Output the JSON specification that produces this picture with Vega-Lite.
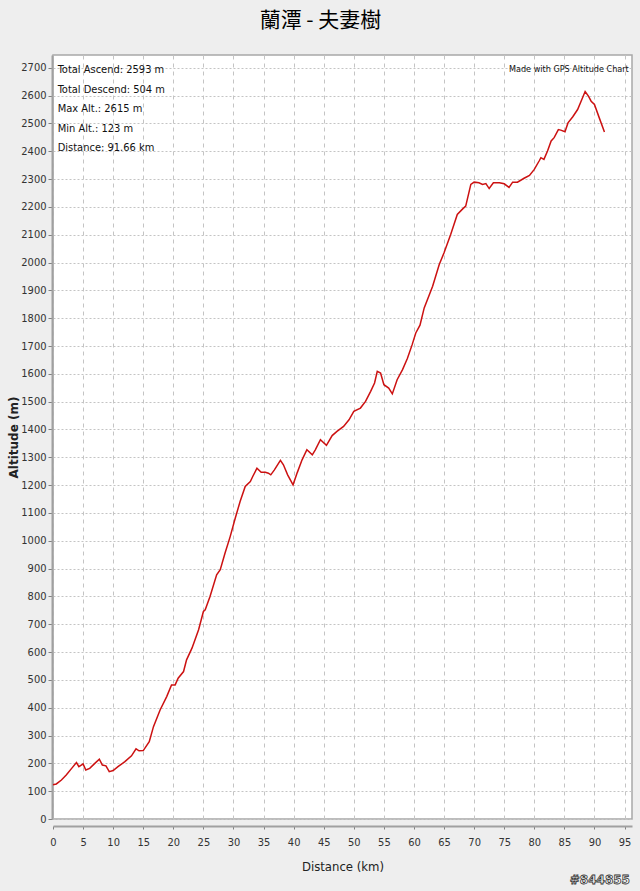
{
  "$schema": "https://vega.github.io/schema/vega-lite/v6.json",
  "width": 579,
  "height": 764,
  "autosize": {"type": "none"},
  "padding": {"left": 53, "top": 55, "right": 8, "bottom": 72},
  "background": "#eeeeee",
  "title": {
    "text": "蘭潭 - 夫妻樹",
    "font": "Noto Sans CJK TC",
    "fontSize": 21,
    "fontWeight": "normal",
    "color": "#000000",
    "anchor": "middle",
    "offset": 24,
    "dx": -22
  },
  "config": {
    "view": {"fill": "#ffffff", "stroke": "#a8a8a8", "strokeWidth": 1.5},
    "axis": {
      "labelFont": "DejaVu Sans Condensed, Liberation Sans, sans-serif",
      "labelFontSize": 11,
      "labelColor": "#333333",
      "labelOverlap": false,
      "labelFlush": false,
      "titleColor": "#222222",
      "domainColor": "#a0a0a0",
      "domainWidth": 2,
      "tickColor": "#808080",
      "gridColor": "#c4c4c4",
      "gridWidth": 1
    }
  },
  "layer": [
    {
      "data": {
        "values": [
          {"km": 0, "alt": 123}, {"km": 0.55, "alt": 126}, {"km": 1.4, "alt": 140}, {"km": 2.2, "alt": 158},
          {"km": 3.1, "alt": 182}, {"km": 3.9, "alt": 203}, {"km": 4.3, "alt": 188}, {"km": 4.7, "alt": 194},
          {"km": 5.0, "alt": 198}, {"km": 5.45, "alt": 176}, {"km": 6.1, "alt": 182}, {"km": 6.95, "alt": 200},
          {"km": 7.7, "alt": 215}, {"km": 8.2, "alt": 194}, {"km": 8.8, "alt": 191}, {"km": 9.35, "alt": 170},
          {"km": 10.0, "alt": 174}, {"km": 10.8, "alt": 188}, {"km": 11.95, "alt": 206}, {"km": 13.05, "alt": 227},
          {"km": 13.8, "alt": 252}, {"km": 14.3, "alt": 245}, {"km": 15.0, "alt": 246}, {"km": 16.0, "alt": 278},
          {"km": 16.7, "alt": 332}, {"km": 17.8, "alt": 392}, {"km": 18.9, "alt": 440}, {"km": 19.7, "alt": 482},
          {"km": 20.3, "alt": 482}, {"km": 20.8, "alt": 506}, {"km": 21.7, "alt": 530}, {"km": 22.2, "alt": 572},
          {"km": 23.1, "alt": 614}, {"km": 24.2, "alt": 680}, {"km": 25.0, "alt": 746}, {"km": 25.3, "alt": 752},
          {"km": 26.1, "alt": 800}, {"km": 27.2, "alt": 878}, {"km": 27.8, "alt": 896}, {"km": 28.6, "alt": 956},
          {"km": 29.45, "alt": 1015}, {"km": 30.3, "alt": 1082}, {"km": 31.1, "alt": 1141}, {"km": 31.95, "alt": 1195},
          {"km": 32.8, "alt": 1213}, {"km": 33.2, "alt": 1231}, {"km": 33.9, "alt": 1261}, {"km": 34.6, "alt": 1246},
          {"km": 35.3, "alt": 1246}, {"km": 35.8, "alt": 1243}, {"km": 36.2, "alt": 1237}, {"km": 36.8, "alt": 1255},
          {"km": 37.8, "alt": 1289}, {"km": 38.3, "alt": 1273}, {"km": 39.0, "alt": 1237}, {"km": 39.9, "alt": 1201},
          {"km": 40.6, "alt": 1245}, {"km": 41.4, "alt": 1291}, {"km": 42.2, "alt": 1327}, {"km": 43.1, "alt": 1309},
          {"km": 43.6, "alt": 1327}, {"km": 44.45, "alt": 1363}, {"km": 45.45, "alt": 1343}, {"km": 46.4, "alt": 1378},
          {"km": 47.2, "alt": 1393}, {"km": 48.3, "alt": 1411}, {"km": 49.2, "alt": 1435}, {"km": 50.0, "alt": 1465},
          {"km": 51.1, "alt": 1477}, {"km": 51.95, "alt": 1501}, {"km": 52.8, "alt": 1537}, {"km": 53.45, "alt": 1567},
          {"km": 53.9, "alt": 1609}, {"km": 54.45, "alt": 1603}, {"km": 55.0, "alt": 1561}, {"km": 55.8, "alt": 1549},
          {"km": 56.4, "alt": 1528}, {"km": 57.2, "alt": 1579}, {"km": 58.1, "alt": 1615}, {"km": 58.9, "alt": 1655},
          {"km": 59.7, "alt": 1705}, {"km": 60.3, "alt": 1747}, {"km": 61.0, "alt": 1775}, {"km": 61.7, "alt": 1837},
          {"km": 63.1, "alt": 1915}, {"km": 64.2, "alt": 1993}, {"km": 65.0, "alt": 2035}, {"km": 66.1, "alt": 2101},
          {"km": 67.2, "alt": 2173}, {"km": 68.1, "alt": 2193}, {"km": 68.6, "alt": 2203}, {"km": 69.45, "alt": 2281},
          {"km": 70.0, "alt": 2289}, {"km": 70.8, "alt": 2287}, {"km": 71.4, "alt": 2281}, {"km": 71.95, "alt": 2284},
          {"km": 72.5, "alt": 2266}, {"km": 73.2, "alt": 2287}, {"km": 74.2, "alt": 2287}, {"km": 75.0, "alt": 2283},
          {"km": 75.8, "alt": 2270}, {"km": 76.4, "alt": 2289}, {"km": 77.2, "alt": 2289}, {"km": 78.3, "alt": 2303},
          {"km": 79.2, "alt": 2313}, {"km": 80.0, "alt": 2335}, {"km": 80.8, "alt": 2365}, {"km": 81.1, "alt": 2377},
          {"km": 81.6, "alt": 2371}, {"km": 82.2, "alt": 2401}, {"km": 82.8, "alt": 2437}, {"km": 83.3, "alt": 2449},
          {"km": 84.0, "alt": 2478}, {"km": 84.4, "alt": 2476}, {"km": 85.1, "alt": 2470}, {"km": 85.6, "alt": 2502},
          {"km": 86.4, "alt": 2524}, {"km": 87.2, "alt": 2550}, {"km": 87.9, "alt": 2586}, {"km": 88.45, "alt": 2615},
          {"km": 89.0, "alt": 2598}, {"km": 89.45, "alt": 2580}, {"km": 90.0, "alt": 2568}, {"km": 90.8, "alt": 2520},
          {"km": 91.66, "alt": 2469}
        ]
      },
      "mark": {"type": "line", "color": "#cc1111", "strokeWidth": 1.5},
      "encoding": {
        "x": {
          "field": "km",
          "type": "quantitative",
          "scale": {"domain": [0, 96.24], "nice": false, "zero": false},
          "axis": {
            "title": "Distance (km)",
            "titleFont": "DejaVu Sans Condensed, Liberation Sans, sans-serif",
            "titleFontSize": 13,
            "titleFontWeight": "normal",
            "titlePadding": 13,
            "values": [0,5,10,15,20,25,30,35,40,45,50,55,60,65,70,75,80,85,90,95],
            "format": "d",
            "offset": 7,
            "tickSize": 3,
            "labelPadding": 7,
            "gridDash": [4, 4]
          }
        },
        "y": {
          "field": "alt",
          "type": "quantitative",
          "scale": {"domain": [0, 2746], "nice": false},
          "axis": {
            "title": "Altitude (m)",
            "titleFont": "DejaVu Sans",
            "titleFontSize": 12,
            "titleFontWeight": "bold",
            "titlePadding": 0,
            "values": [0,100,200,300,400,500,600,700,800,900,1000,1100,1200,1300,1400,1500,1600,1700,1800,1900,2000,2100,2200,2300,2400,2500,2600,2700],
            "format": "d",
            "offset": 1,
            "tickSize": 4,
            "labelPadding": 2,
            "gridDash": [2, 2]
          }
        }
      }
    },
    {
      "data": {"values": [{"label": "stats"}]},
      "mark": {
        "type": "text",
        "align": "left",
        "baseline": "top",
        "font": "DejaVu Sans Condensed, Liberation Sans, sans-serif",
        "fontSize": 11,
        "lineHeight": 19.5,
        "color": "#111111"
      },
      "encoding": {
        "x": {"datum": 0.78, "type": "quantitative", "axis": {
            "title": "Distance (km)",
            "titleFont": "DejaVu Sans Condensed, Liberation Sans, sans-serif",
            "titleFontSize": 13,
            "titleFontWeight": "normal",
            "titlePadding": 13,
            "values": [0,5,10,15,20,25,30,35,40,45,50,55,60,65,70,75,80,85,90,95],
            "format": "d",
            "offset": 7,
            "tickSize": 3,
            "labelPadding": 7,
            "gridDash": [4, 4]
          }},
        "y": {"datum": 2712, "type": "quantitative", "axis": {
            "title": "Altitude (m)",
            "titleFont": "DejaVu Sans",
            "titleFontSize": 12,
            "titleFontWeight": "bold",
            "titlePadding": 0,
            "values": [0,100,200,300,400,500,600,700,800,900,1000,1100,1200,1300,1400,1500,1600,1700,1800,1900,2000,2100,2200,2300,2400,2500,2600,2700],
            "format": "d",
            "offset": 1,
            "tickSize": 4,
            "labelPadding": 2,
            "gridDash": [2, 2]
          }},
        "text": {"value": ["Total Ascend: 2593 m", "Total Descend: 504 m", "Max Alt.: 2615 m", "Min Alt.: 123 m", "Distance: 91.66 km"]}
      }
    },
    {
      "data": {"values": [{"label": "credit"}]},
      "mark": {
        "type": "text",
        "align": "right",
        "baseline": "middle",
        "font": "DejaVu Sans Condensed, Liberation Sans, sans-serif",
        "fontSize": 9,
        "color": "#111111"
      },
      "encoding": {
        "x": {"datum": 95.7, "type": "quantitative", "axis": {
            "title": "Distance (km)",
            "titleFont": "DejaVu Sans Condensed, Liberation Sans, sans-serif",
            "titleFontSize": 13,
            "titleFontWeight": "normal",
            "titlePadding": 13,
            "values": [0,5,10,15,20,25,30,35,40,45,50,55,60,65,70,75,80,85,90,95],
            "format": "d",
            "offset": 7,
            "tickSize": 3,
            "labelPadding": 7,
            "gridDash": [4, 4]
          }},
        "y": {"datum": 2694, "type": "quantitative", "axis": {
            "title": "Altitude (m)",
            "titleFont": "DejaVu Sans",
            "titleFontSize": 12,
            "titleFontWeight": "bold",
            "titlePadding": 0,
            "values": [0,100,200,300,400,500,600,700,800,900,1000,1100,1200,1300,1400,1500,1600,1700,1800,1900,2000,2100,2200,2300,2400,2500,2600,2700],
            "format": "d",
            "offset": 1,
            "tickSize": 4,
            "labelPadding": 2,
            "gridDash": [2, 2]
          }},
        "text": {"value": "Made with GPS Altitude Chart"}
      }
    },
    {
      "data": {"values": [{"label": "watermark"}]},
      "mark": {
        "type": "text",
        "align": "right",
        "baseline": "middle",
        "font": "DejaVu Sans",
        "fontSize": 12,
        "fontWeight": "bold",
        "fill": "#ffffff",
        "stroke": "#333333",
        "strokeWidth": 0.8
      },
      "encoding": {
        "x": {"datum": 95.9, "type": "quantitative", "axis": {
            "title": "Distance (km)",
            "titleFont": "DejaVu Sans Condensed, Liberation Sans, sans-serif",
            "titleFontSize": 13,
            "titleFontWeight": "normal",
            "titlePadding": 13,
            "values": [0,5,10,15,20,25,30,35,40,45,50,55,60,65,70,75,80,85,90,95],
            "format": "d",
            "offset": 7,
            "tickSize": 3,
            "labelPadding": 7,
            "gridDash": [4, 4]
          }},
        "y": {"datum": -219, "type": "quantitative", "axis": {
            "title": "Altitude (m)",
            "titleFont": "DejaVu Sans",
            "titleFontSize": 12,
            "titleFontWeight": "bold",
            "titlePadding": 0,
            "values": [0,100,200,300,400,500,600,700,800,900,1000,1100,1200,1300,1400,1500,1600,1700,1800,1900,2000,2100,2200,2300,2400,2500,2600,2700],
            "format": "d",
            "offset": 1,
            "tickSize": 4,
            "labelPadding": 2,
            "gridDash": [2, 2]
          }},
        "text": {"value": "#844855"}
      }
    }
  ]
}
